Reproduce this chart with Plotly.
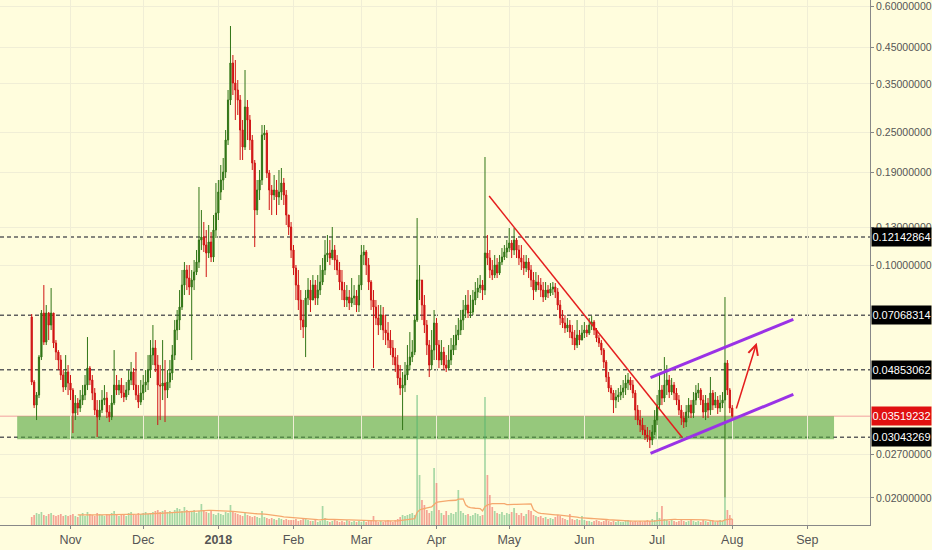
import math
import pandas as pd
import plotly.graph_objects as go

# ---------------- data (daily candles, 2017-10-16 .. 2018-08-01) ----------------
start_date = "2017-10-16"
first_open = 0.06985

close_oct = [0.04456, 0.03800, 0.04073, 0.05296, 0.07181, 0.05875, 0.07181, 0.06609, 0.07181, 0.05835,
             0.05483, 0.05188, 0.04677, 0.04304, 0.04775, 0.04425]
close_nov = [0.04216, 0.03596, 0.03853, 0.03722, 0.03934, 0.04073, 0.04364, 0.04908, 0.04518, 0.04129,
             0.03671, 0.03498, 0.03671, 0.03934, 0.03989, 0.03621, 0.03498, 0.03853, 0.04364, 0.04216,
             0.04364, 0.04129, 0.04017, 0.04216, 0.04518, 0.04775, 0.04364, 0.04073, 0.03880, 0.04129]
close_dec = [0.04364, 0.04456, 0.04841, 0.05370, 0.05637, 0.05011, 0.04364, 0.04334, 0.04425, 0.04216,
             0.04456, 0.04742, 0.05370, 0.06384, 0.06841, 0.07485, 0.08714, 0.09667, 0.09146, 0.08594,
             0.09021, 0.09534, 0.10217, 0.11896, 0.12146, 0.11492, 0.10873, 0.11733, 0.10577, 0.12748,
             0.14338]
close_jan = [0.16579, 0.18014, 0.19039, 0.23755, 0.31324, 0.40457, 0.35232, 0.33567, 0.31324, 0.25456,
             0.22632, 0.29845, 0.27278, 0.23755, 0.20261, 0.14639, 0.16810, 0.18014, 0.24590, 0.24932,
             0.18908, 0.16810, 0.16239, 0.16810, 0.16016, 0.16579, 0.17644, 0.16239, 0.14142, 0.13016,
             0.11101]
close_feb = [0.09802, 0.08714, 0.07856, 0.06841, 0.06518, 0.07965, 0.08418, 0.07856, 0.08714, 0.07965,
             0.08418, 0.08897, 0.09667, 0.10724, 0.10873, 0.10504, 0.11101, 0.10359, 0.09667, 0.08897,
             0.08418, 0.07856, 0.08020, 0.07695, 0.07965, 0.08076, 0.07589, 0.08714]
close_mar = [0.10724, 0.10949, 0.10007, 0.08897, 0.07856, 0.07485, 0.06937, 0.06609, 0.07082, 0.06384,
             0.06253, 0.05957, 0.05637, 0.05296, 0.05011, 0.04581, 0.04274, 0.04364, 0.04677, 0.05011,
             0.05296, 0.05483, 0.06841, 0.09021, 0.09021, 0.07589, 0.06609, 0.05755, 0.05011, 0.05559,
             0.06701]
close_apr = [0.05755, 0.05188, 0.05483, 0.05011, 0.04908, 0.05188, 0.05559, 0.05755, 0.06167, 0.06384,
             0.06841, 0.07331, 0.07589, 0.07181, 0.07230, 0.07856, 0.08302, 0.08535, 0.08714, 0.08418,
             0.10873, 0.10504, 0.09667, 0.09338, 0.10007, 0.09469, 0.10217, 0.10577, 0.10949, 0.11256]
close_may = [0.11652, 0.11101, 0.11896, 0.11101, 0.10504, 0.10217, 0.09802, 0.10217, 0.09667, 0.09021,
             0.08418, 0.08897, 0.08714, 0.08418, 0.08020, 0.08418, 0.08245, 0.08476, 0.08594, 0.08302,
             0.07589, 0.06937, 0.06701, 0.06473, 0.06609, 0.06296, 0.06040, 0.05755, 0.06167, 0.05957,
             0.06253]
close_jun = [0.06384, 0.06253, 0.06609, 0.06747, 0.06384, 0.06040, 0.05835, 0.05559, 0.05117, 0.04613,
             0.04274, 0.04129, 0.03934, 0.04017, 0.04073, 0.04158, 0.04274, 0.04425, 0.04518, 0.04364,
             0.04129, 0.03671, 0.03426, 0.03310, 0.03197, 0.03089, 0.03047, 0.02984, 0.03153, 0.03426]
close_jul = [0.03800, 0.04216, 0.03989, 0.04364, 0.04518, 0.04158, 0.04364, 0.04129, 0.03934, 0.03671,
             0.03474, 0.03379, 0.03621, 0.03800, 0.03596, 0.03934, 0.04129, 0.04216, 0.03934, 0.03621,
             0.03853, 0.03671, 0.04129, 0.03800, 0.03934, 0.03722, 0.03853, 0.03934, 0.05081, 0.04216,
             0.03722]
close_aug = [0.03519232]

high_oct = [0.07131, 0.04518, 0.04158, 0.05370, 0.07331, 0.08714, 0.07589, 0.07230, 0.08535, 0.07181,
            0.05957, 0.05559, 0.05370, 0.04841, 0.05370, 0.05011]
high_nov = [0.04677, 0.04274, 0.04073, 0.03989, 0.04216, 0.04364, 0.04677, 0.06082, 0.04976, 0.04677,
            0.04274, 0.03934, 0.03934, 0.04216, 0.04364, 0.04158, 0.03800, 0.04073, 0.05559, 0.04677,
            0.04518, 0.04581, 0.04364, 0.04456, 0.04841, 0.05117, 0.04908, 0.05483, 0.04364, 0.04518]
high_dec = [0.04677, 0.04841, 0.05370, 0.05957, 0.06609, 0.05957, 0.05370, 0.05011, 0.05957, 0.05188,
            0.04841, 0.05188, 0.05755, 0.06841, 0.07331, 0.08418, 0.09667, 0.10217, 0.10007, 0.10007,
            0.09667, 0.10359, 0.11101, 0.17163, 0.14639, 0.13473, 0.12748, 0.13197, 0.12573, 0.14142,
            0.17644]
high_jan = [0.18014, 0.19983, 0.20974, 0.25456, 0.33567, 0.52254, 0.42759, 0.41306, 0.35971, 0.32426,
            0.27278, 0.38546, 0.31324, 0.28238, 0.24590, 0.20686, 0.18014, 0.19304, 0.26351, 0.26351,
            0.25456, 0.19304, 0.17402, 0.18648, 0.18014, 0.19304, 0.19573, 0.18265, 0.16810, 0.14142,
            0.13473]
high_feb = [0.11492, 0.10007, 0.09667, 0.08418, 0.07856, 0.08418, 0.09146, 0.09021, 0.09338, 0.09021,
            0.09338, 0.10007, 0.10504, 0.11896, 0.12315, 0.11896, 0.13016, 0.11492, 0.10724, 0.10217,
            0.09667, 0.08897, 0.08714, 0.08418, 0.09146, 0.08714, 0.08418, 0.09338]
high_mar = [0.11492, 0.11492, 0.11101, 0.10504, 0.09021, 0.08418, 0.07856, 0.07589, 0.07589, 0.07485,
            0.07082, 0.06747, 0.06384, 0.05957, 0.05637, 0.05370, 0.05011, 0.04775, 0.05117, 0.05755,
            0.06296, 0.05957, 0.07082, 0.13851, 0.10007, 0.09021, 0.08132, 0.06841, 0.05957, 0.06384,
            0.07331]
high_apr = [0.06937, 0.05957, 0.05957, 0.05676, 0.05370, 0.05755, 0.06040, 0.06167, 0.06609, 0.06937,
            0.07331, 0.07856, 0.08132, 0.08418, 0.08132, 0.08418, 0.08897, 0.09146, 0.09338, 0.09021,
            0.21120, 0.12315, 0.11101, 0.10359, 0.10724, 0.10504, 0.10724, 0.11256, 0.11492, 0.11896]
high_may = [0.12925, 0.11896, 0.12925, 0.12062, 0.11492, 0.11492, 0.10724, 0.10724, 0.10504, 0.10007,
            0.09534, 0.09534, 0.09338, 0.09146, 0.08897, 0.08897, 0.08714, 0.08835, 0.08897, 0.08835,
            0.08535, 0.07856, 0.07331, 0.07082, 0.06937, 0.06841, 0.06609, 0.06384, 0.06841, 0.06384,
            0.06609]
high_jun = [0.06747, 0.06609, 0.06937, 0.07033, 0.06841, 0.06473, 0.06167, 0.05957, 0.05637, 0.05188,
            0.04775, 0.04364, 0.04216, 0.04216, 0.04274, 0.04364, 0.04518, 0.04677, 0.04742, 0.04613,
            0.04518, 0.04216, 0.03800, 0.03671, 0.03474, 0.03310, 0.03265, 0.03197, 0.03310, 0.03671]
high_jul = [0.04073, 0.04677, 0.04364, 0.05296, 0.05011, 0.04677, 0.04581, 0.04456, 0.04274, 0.04073,
            0.03800, 0.03621, 0.03800, 0.03989, 0.03934, 0.04158, 0.04364, 0.04425, 0.04274, 0.04073,
            0.04073, 0.03989, 0.04613, 0.04216, 0.04158, 0.04045, 0.04073, 0.04158, 0.08020, 0.05188,
            0.04274]
high_aug = [0.03800]

low_oct = [0.04364, 0.03722, 0.03426, 0.03989, 0.05188, 0.05755, 0.05755, 0.05957, 0.06384, 0.05637,
           0.05188, 0.04841, 0.04518, 0.04158, 0.04216, 0.04073]
low_nov = [0.03934, 0.03131, 0.03426, 0.03547, 0.03621, 0.03800, 0.03934, 0.04216, 0.04364, 0.03934,
           0.03547, 0.03047, 0.03426, 0.03596, 0.03800, 0.03474, 0.03379, 0.03426, 0.03800, 0.04073,
           0.04073, 0.03989, 0.03880, 0.03934, 0.04073, 0.04364, 0.04216, 0.03934, 0.03722, 0.03800]
low_dec = [0.03934, 0.04158, 0.04216, 0.04581, 0.05011, 0.04775, 0.03310, 0.03426, 0.03934, 0.03379,
           0.03989, 0.04274, 0.04518, 0.05188, 0.05957, 0.06384, 0.07331, 0.08132, 0.08418, 0.08132,
           0.05188, 0.08418, 0.09338, 0.09802, 0.11101, 0.10949, 0.09210, 0.10504, 0.10217, 0.10217,
           0.12062]
low_jan = [0.13661, 0.15687, 0.16810, 0.18265, 0.22947, 0.30260, 0.32426, 0.27278, 0.28238, 0.20686,
           0.20686, 0.22167, 0.23755, 0.22167, 0.19304, 0.11334, 0.14142, 0.15687, 0.17402, 0.23755,
           0.18265, 0.14639, 0.14142, 0.15687, 0.14142, 0.15154, 0.15687, 0.15154, 0.13197, 0.12315,
           0.10504]
low_feb = [0.09338, 0.07856, 0.07331, 0.06384, 0.06040, 0.05296, 0.07589, 0.07230, 0.07856, 0.07589,
           0.07589, 0.08132, 0.08714, 0.09338, 0.10217, 0.10007, 0.10359, 0.09667, 0.09338, 0.08418,
           0.07856, 0.07485, 0.07485, 0.07331, 0.07485, 0.07589, 0.07230, 0.07230]
low_mar = [0.08418, 0.10007, 0.09338, 0.08418, 0.07331, 0.04908, 0.06609, 0.06167, 0.06384, 0.05957,
           0.05755, 0.05637, 0.05370, 0.05011, 0.04775, 0.04364, 0.04073, 0.03197, 0.04158, 0.04518,
           0.04841, 0.05117, 0.05370, 0.06747, 0.07856, 0.06841, 0.06253, 0.05370, 0.04613, 0.04841,
           0.05188]
low_apr = [0.05188, 0.04908, 0.05011, 0.04841, 0.04775, 0.04841, 0.05011, 0.05370, 0.05559, 0.05957,
           0.06167, 0.06384, 0.06937, 0.06937, 0.06937, 0.07082, 0.07589, 0.07965, 0.08245, 0.07856,
           0.08132, 0.10007, 0.09146, 0.09021, 0.09146, 0.09146, 0.09338, 0.10007, 0.10359, 0.10504]
low_may = [0.10949, 0.10504, 0.10724, 0.10504, 0.10007, 0.09667, 0.09338, 0.09534, 0.09146, 0.08594,
           0.07856, 0.08302, 0.08418, 0.08020, 0.07748, 0.07856, 0.07965, 0.08076, 0.08132, 0.07965,
           0.07331, 0.06609, 0.06473, 0.06253, 0.06296, 0.06040, 0.05755, 0.05559, 0.05637, 0.05755,
           0.05957]
low_jun = [0.06040, 0.06082, 0.06167, 0.06384, 0.06167, 0.05875, 0.05676, 0.05370, 0.04908, 0.04456,
           0.04158, 0.03934, 0.03596, 0.03722, 0.03880, 0.03934, 0.03989, 0.04073, 0.04216, 0.04216,
           0.03989, 0.03426, 0.03310, 0.03153, 0.03089, 0.02984, 0.02943, 0.02823, 0.02882, 0.03089]
low_jul = [0.03310, 0.03671, 0.03800, 0.03880, 0.04073, 0.03989, 0.04073, 0.03934, 0.03800, 0.03547,
           0.03310, 0.03242, 0.03265, 0.03474, 0.03474, 0.03474, 0.03800, 0.03989, 0.03800, 0.03474,
           0.03426, 0.03474, 0.03547, 0.03671, 0.03722, 0.03572, 0.03621, 0.03722, 0.02010, 0.04073,
           0.03596]
low_aug = [0.03426]

vol_oct = [8, 10, 12, 11, 13, 10, 9, 11, 12, 10, 9, 10, 11, 9, 10, 9]
vol_nov = [10, 11, 9, 8, 10, 12, 9, 13, 11, 10, 9, 12, 11, 10, 9, 11, 10, 12, 14, 10,
           9, 11, 10, 9, 12, 13, 11, 10, 12, 11]
vol_dec = [12, 13, 11, 12, 13, 14, 15, 13, 14, 15, 13, 14, 13, 15, 17, 16, 14, 18, 15, 14,
           13, 15, 12, 14, 21, 15, 13, 12, 14, 11, 10]
vol_jan = [12, 11, 10, 13, 12, 20, 14, 12, 11, 10, 9, 12, 10, 9, 8, 9, 8, 7, 14, 8,
           7, 6, 7, 6, 5, 7, 6, 5, 6, 5, 5]
vol_feb = [5, 6, 4, 5, 6, 7, 5, 4, 4, 5, 3, 4, 19, 7, 4, 3, 4, 5, 4, 3,
           4, 3, 5, 4, 3, 4, 3, 4]
vol_mar = [3, 4, 3, 4, 5, 9, 4, 3, 4, 3, 4, 5, 4, 3, 5, 6, 8, 10, 9, 10,
           11, 12, 10, 130, 50, 25, 20, 15, 12, 14, 57]
vol_apr = [42, 15, 12, 10, 14, 10, 12, 11, 13, 35, 14, 12, 10, 11, 9, 10, 12, 11, 9, 10,
           128, 50, 30, 18, 14, 12, 11, 13, 10, 12]
vol_may = [11, 13, 17, 12, 10, 12, 9, 11, 15, 14, 10, 9, 8, 9, 7, 8, 6, 7, 6, 8,
           10, 9, 7, 6, 5, 11, 6, 5, 6, 5, 9]
vol_jun = [5, 4, 4, 3, 4, 5, 4, 3, 4, 5, 4, 3, 4, 3, 4, 3, 3, 4, 5, 4,
           3, 4, 3, 4, 3, 4, 5, 4, 6, 5]
vol_jul = [13, 7, 19, 6, 5, 4, 5, 4, 3, 4, 5, 4, 3, 4, 5, 4, 3, 4, 3, 5,
           4, 3, 4, 5, 3, 4, 5, 4, 28, 15, 10]
vol_aug = [6]

tick_vals = [0.6, 0.45, 0.35, 0.25, 0.19, 0.13, 0.1, 0.027, 0.02]
month_ticks = ["2017-11-01", "2017-12-01", "2018-01-01", "2018-02-01", "2018-03-01", "2018-04-01",
               "2018-05-01", "2018-06-01", "2018-07-01", "2018-08-01", "2018-09-01"]
month_labels = ["Nov", "Dec", "<b>2018</b>", "Feb", "Mar", "Apr", "May", "Jun", "Jul", "Aug", "Sep"]

level_values = [0.12142864, 0.07068314, 0.04853062, 0.03043269]
current_price = 0.03519232
zone = {"x0": "2017-10-10", "x1": "2018-09-12", "low": 0.0300, "high": 0.03519232}
red_trend = ("2018-04-22 17:00", 0.1613, "2018-07-11 07:00", 0.0304)
channel_upper = ("2018-06-28 07:00", 0.04591, "2018-08-26 05:00", 0.06874)
channel_lower = ("2018-06-28 07:00", 0.02722, "2018-08-26 05:00", 0.04093)
arrow = ("2018-08-02 12:00", 0.03671, "2018-08-11 02:00", 0.05845)

# ---------------- assemble ----------------
close = (close_oct + close_nov + close_dec + close_jan + close_feb + close_mar + close_apr +
         close_may + close_jun + close_jul + close_aug)
high = (high_oct + high_nov + high_dec + high_jan + high_feb + high_mar + high_apr +
        high_may + high_jun + high_jul + high_aug)
low = (low_oct + low_nov + low_dec + low_jan + low_feb + low_mar + low_apr +
       low_may + low_jun + low_jul + low_aug)
volume = (vol_oct + vol_nov + vol_dec + vol_jan + vol_feb + vol_mar + vol_apr +
          vol_may + vol_jun + vol_jul + vol_aug)
n = len(close)
assert len(high) == n and len(low) == n and len(volume) == n, (n, len(high), len(low), len(volume))

dates = pd.date_range(start_date, periods=n, freq="D")
opens = [first_open] + close[:-1]
high = [max(h, o, c) for h, o, c in zip(high, opens, close)]
low = [min(l, o, c) for l, o, c in zip(low, opens, close)]
vol_ma = pd.Series(volume, dtype=float).rolling(20).mean()

UP = "#317516"
DOWN = "#d01414"
vol_colors = ["rgba(80,180,110,0.5)" if c >= o else "rgba(235,75,75,0.5)" for o, c in zip(opens, close)]

FONT = "Liberation Sans, Arial, sans-serif"
BG = "#fffddd"
GRID = "#f0eed6"
L = math.log10

fig = go.Figure()
fig.add_trace(go.Bar(x=dates, y=volume, marker=dict(color=vol_colors, line=dict(width=0)),
                     yaxis="y", showlegend=False, hoverinfo="skip"))
fig.add_trace(go.Scatter(x=dates, y=vol_ma, mode="lines", line=dict(color="#f5a86e", width=1.3),
                         yaxis="y", showlegend=False, hoverinfo="skip"))
fig.add_trace(go.Candlestick(
    x=dates, open=opens, high=high, low=low, close=close, yaxis="y2",
    increasing=dict(line=dict(color=UP, width=1), fillcolor=UP),
    decreasing=dict(line=dict(color=DOWN, width=1), fillcolor=DOWN),
    whiskerwidth=0, showlegend=False, hoverinfo="skip"))

# shapes on a log axis take data values
shapes = []
shapes.append(dict(type="rect", xref="x", yref="y2", x0=zone["x0"], x1=zone["x1"],
                   y0=zone["low"], y1=zone["high"], fillcolor="rgba(80,165,60,0.6)",
                   line=dict(width=0), layer="below"))
shapes.append(dict(type="line", xref="paper", yref="y2", x0=0, x1=1, y0=current_price, y1=current_price,
                   line=dict(color="#f2a0a0", width=1), layer="below"))
for v in level_values:
    shapes.append(dict(type="line", xref="paper", yref="y2", x0=0, x1=1, y0=v, y1=v,
                       line=dict(color="#5f5f5f", width=1.5, dash="4px,3px"), layer="below"))
for (xa, ya, xb, yb), col, w in [(red_trend, "#e41e1e", 1.5), (channel_upper, "#9a32e6", 3),
                                  (channel_lower, "#9a32e6", 3)]:
    shapes.append(dict(type="line", xref="x", yref="y2", x0=xa, x1=xb, y0=ya, y1=yb,
                       line=dict(color=col, width=w), layer="above"))

# annotations on a log axis take log10 values
annotations = []
annotations.append(dict(xref="x", yref="y2", axref="x", ayref="y2",
                        x=arrow[2], y=L(arrow[3]), ax=arrow[0], ay=L(arrow[1]),
                        showarrow=True, arrowhead=5, arrowsize=1.3, arrowwidth=1.5,
                        arrowcolor="#e41e1e", text=""))
TICK_SIZE = 10.5
BOX_SIZE = 11
for v, bg in [(lv, "#000000") for lv in level_values] + [(current_price, "#e01010")]:
    annotations.append(dict(xref="paper", yref="y2", x=1, y=L(v), xanchor="left", yanchor="middle",
                            xshift=1, text=f"{v:.8f}", showarrow=False, bgcolor=bg,
                            width=59, height=18, borderpad=0, align="center",
                            font=dict(color="#ffffff", size=BOX_SIZE, family=FONT)))

fig.update_layout(
    width=932, height=550,
    margin=dict(l=0, r=62, t=0, b=25),
    paper_bgcolor=BG, plot_bgcolor=BG,
    showlegend=False, bargap=0.3, hovermode=False,
    font=dict(family=FONT, color="#555555", size=12),
    shapes=shapes, annotations=annotations,
    xaxis=dict(type="date", range=["2017-10-02 22:00", "2018-09-26 20:00"],
               tickvals=month_ticks, ticktext=month_labels, showgrid=True, gridcolor=GRID,
               ticks="outside", ticklen=3, tickcolor="#888888", showline=True, linecolor="#888888",
               linewidth=1, rangeslider=dict(visible=False), tickfont=dict(size=12.5, color="#555555"),
               zeroline=False, automargin=False),
    yaxis=dict(range=[0, 525], visible=False, showgrid=False, fixedrange=True),
    yaxis2=dict(type="log", overlaying="y", side="right", range=[-1.7804, -0.2038],
                tickvals=tick_vals, ticktext=[f"{v:.8f}" for v in tick_vals],
                showgrid=True, gridcolor=GRID, ticks="outside", ticklen=3, tickcolor="#888888",
                showline=True, linecolor="#888888", linewidth=1, zeroline=False,
                tickfont=dict(size=TICK_SIZE, color="#555555"), automargin=False,
                ticklabeloverflow="allow"),
)

fig.write_html("out.html", config={"displayModeBar": False},
               post_script="document.body.style.margin='0';document.body.style.overflow='hidden';")
